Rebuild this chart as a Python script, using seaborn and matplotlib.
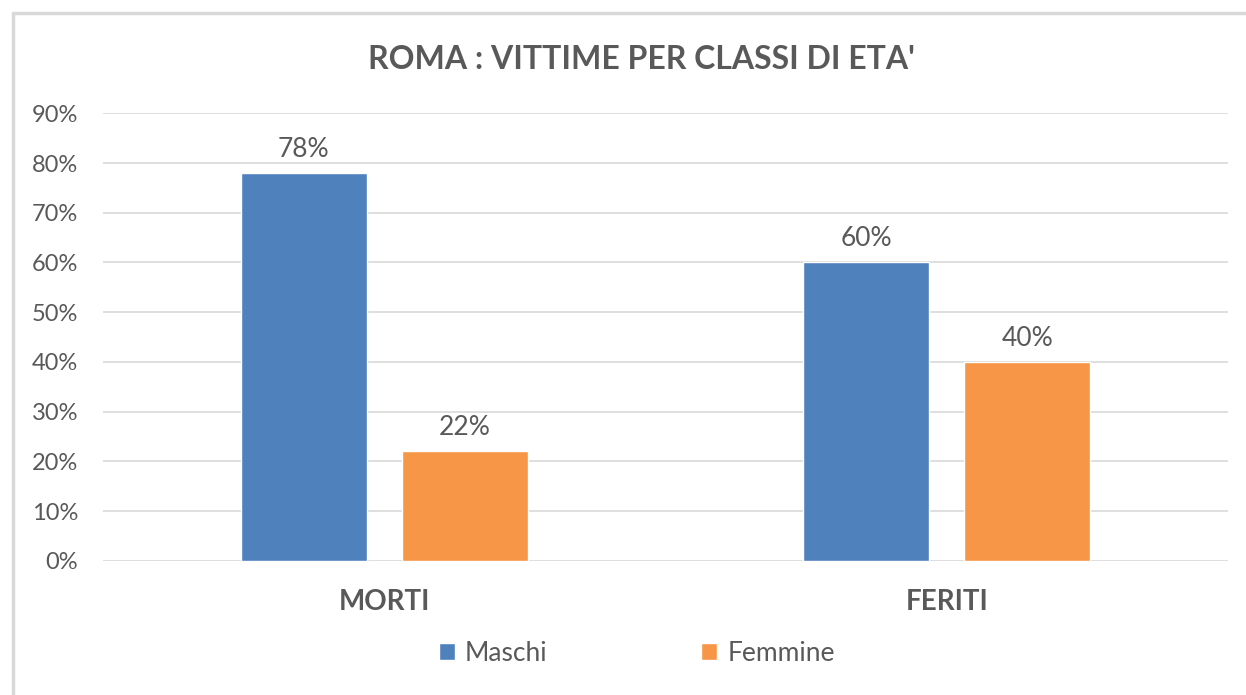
import pandas as pd
import numpy as np
import matplotlib.pyplot as plt
import seaborn as sns
from matplotlib.lines import Line2D
from matplotlib.patches import Patch

# data
categorie = ["MORTI", "FERITI"]
maschi = [0.78, 0.60]
femmine = [0.22, 0.40]
serie = ["Maschi", "Femmine"]
colori = ["#4F81BD", "#F79646"]
yticks = [0, 0.1, 0.2, 0.3, 0.4, 0.5, 0.6, 0.7, 0.8, 0.9]

df = pd.DataFrame({
    "categoria": categorie * 2,
    "valore": maschi + femmine,
    "sesso": [serie[0]] * len(categorie) + [serie[1]] * len(categorie),
})

sns.set_style("white")
plt.rcParams['font.family'] = ['Lato', 'DejaVu Sans']
grigio = "#595959"

fig = plt.figure(figsize=(12.46, 6.95), dpi=100)
ax = fig.add_axes([0.0827, 0.193, 0.9029, 0.644])

sns.barplot(data=df, x="categoria", y="valore", hue="sesso", order=categorie,
            hue_order=serie, palette=colori, width=0.572, gap=0.217,
            saturation=1, legend=False, ax=ax)

ax.set_ylim(0, 0.9)
ax.set_yticks(yticks)
ax.set_yticklabels([f"{int(round(t * 100))}%" for t in yticks], color=grigio, fontsize=17)
ax.tick_params(axis="y", length=0, pad=18)
ax.tick_params(axis="x", length=0, pad=20)
for lab in ax.get_xticklabels():
    lab.set_fontweight("bold")
    lab.set_fontsize(20)
    lab.set_color(grigio)
ax.set_xlabel("")
ax.set_ylabel("")
ax.grid(axis="y", color="#D9D9D9", linewidth=1.2)
ax.set_axisbelow(True)
for s in ax.spines.values():
    s.set_visible(False)

for cont in ax.containers:
    ax.bar_label(cont, labels=[f"{int(round(v * 100))}%" for v in cont.datavalues],
                 padding=8, fontsize=19, color=grigio)

fig.text(0.515, 0.915, "ROMA : VITTIME PER CLASSI DI ETA'", ha="center", va="center",
         fontsize=23, fontweight="bold", color=grigio)

handles = [Patch(facecolor=c, label=l) for c, l in zip(colori, serie)]
fig.legend(handles=handles, loc="center", bbox_to_anchor=(0.511, 0.06), ncol=2,
           frameon=False, fontsize=19, labelcolor=grigio, handlelength=0.6,
           handleheight=0.6, handletextpad=0.4, columnspacing=5.8)

# chart frame (top and left edges visible)
fig.add_artist(Line2D([0.0105, 1.0], [0.982, 0.982], color="#D9D9D9", linewidth=2.5))
fig.add_artist(Line2D([0.0105, 0.0105], [0.0, 0.982], color="#D9D9D9", linewidth=2.5))

fig.savefig("out.png", dpi=100)
